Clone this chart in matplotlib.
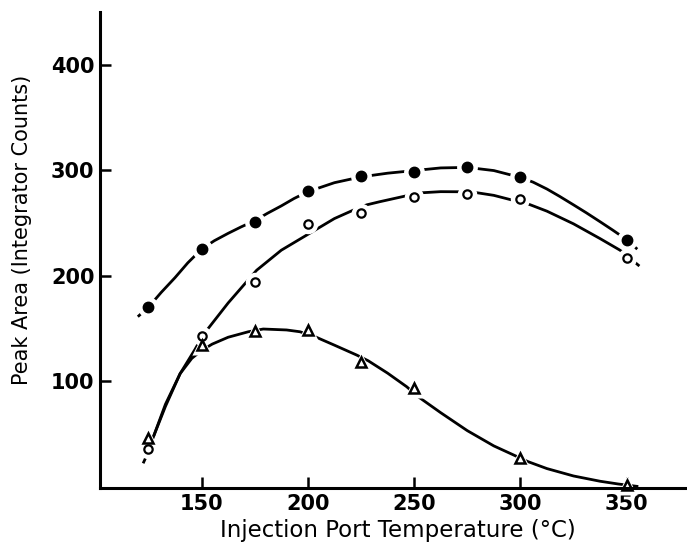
import numpy as np
import matplotlib
matplotlib.use("Agg")
import matplotlib.pyplot as plt

# measured points (injection port temperature, peak area)
temp = [125, 150, 175, 200, 225, 250, 275, 300, 350]
filled = [170, 225, 251, 280, 294, 298, 303, 293, 234]
temp_open = [125, 150, 175, 200, 225, 250, 275, 300, 350]
opened = [36, 143, 194, 249, 259, 274, 277, 273, 217]
temp_tri = [125, 150, 175, 200, 225, 250, 300, 350]
tri = [46, 134, 147, 148, 118, 93, 27, 1.5]

# hand drawn curves
cf_x = [120, 125, 131, 137.5, 143.5, 150, 156, 162.5, 168.5, 175, 181, 187.5, 193.5,
        200, 212.5, 225, 237.5, 250, 262.5, 275, 287.5, 300, 306, 312.5, 318.5,
        325, 331, 337.5, 343.5, 350, 355]
cf_y = [161, 170, 184, 198, 212, 225, 233, 240, 246, 252, 259, 266, 273,
        279.5, 288, 293.5, 297, 299.5, 302, 302.5, 299.5, 293, 288.5, 282, 275,
        267, 259.5, 251, 243, 234, 225]
co_x = [122.5, 125, 127.3, 133, 139.9, 146.9, 150, 152.4, 162.5, 172, 175.9, 187.5,
        200, 212.5, 221.4, 227.7, 233.9, 247.3, 254, 262.5, 272, 279.5, 287.5,
        296, 303.7, 312.5, 325, 337.5, 346.9, 350, 356]
co_y = [22, 33, 47, 76, 107, 130, 141, 148, 174, 196, 205, 224,
        239, 254, 262, 267, 270, 276, 278.5, 279.5, 279.4, 278.5, 276,
        271.6, 267.8, 261, 249, 235, 224, 219, 209]
ct_x = [127.3, 133, 139.9, 145.4, 150, 155, 162.5, 172, 179, 190, 196.3, 203.4,
        212.5, 223, 228.4, 237.5, 246.5, 252, 262.5, 275, 287.5, 296.7, 303.7,
        312.5, 325, 337.5, 346, 355.5]
ct_y = [47, 78, 107, 121.5, 129, 135, 141.5, 146.7, 149.3, 148.4, 146.7, 142,
        134, 124.6, 119.2, 107.5, 94.6, 85, 70, 53, 38.5, 30, 23.5,
        17, 10, 5, 2.4, 0]

fig = plt.figure(figsize=(6.87, 5.49), dpi=100)
ax = fig.add_axes([100/687, 1 - 488/549, 1 - 100/687, (488 - 12)/549])

lw = 2.0
for x, y in [(cf_x, cf_y), (co_x, co_y), (ct_x, ct_y)]:
    ax.plot(x, y, color='black', lw=lw, solid_capstyle='butt',
            solid_joinstyle='round', zorder=2)

# white halos give the broken line look around each symbol
ax.plot(temp, filled, 'o', ms=15, color='white', mec='none', zorder=3, clip_on=False)
ax.plot(temp_open, opened, 'o', ms=14, color='white', mec='none', zorder=3, clip_on=False)
ax.plot(temp_tri, tri, '^', ms=15, color='white', mec='none', zorder=3, clip_on=False)

ax.plot(temp, filled, 'o', ms=7.5, color='black', zorder=4, clip_on=False)
ax.plot(temp_open, opened, 'o', ms=6, mfc='white', mec='black', mew=1.6, zorder=4, clip_on=False)
ax.plot(temp_tri, tri, '^', ms=6.5, mfc='white', mec='black', mew=1.8, zorder=4, clip_on=False)

ax.set_xlim(102.2, 378.4)
ax.set_ylim(-1.4, 449.8)
ax.set_xticks([150, 200, 250, 300, 350])
ax.set_yticks([100, 200, 300, 400])
for s in ['top', 'right']:
    ax.spines[s].set_visible(False)
for s in ['left', 'bottom']:
    ax.spines[s].set_linewidth(2.2)
    ax.spines[s].set_zorder(5)
ax.tick_params(direction='in', length=8, width=1.8, pad=4, labelsize=15)
for lab in ax.get_xticklabels() + ax.get_yticklabels():
    lab.set_fontweight('bold')

fig.text(398/687, 1 - 531/549, 'Injection Port Temperature (\u00b0C)', fontsize=16.5,
         ha='center', va='center')
fig.text(22/687, 1 - 230/549, 'Peak Area (Integrator Counts)', fontsize=15,
         ha='center', va='center', rotation=90)

fig.savefig('out.png', dpi=100)
